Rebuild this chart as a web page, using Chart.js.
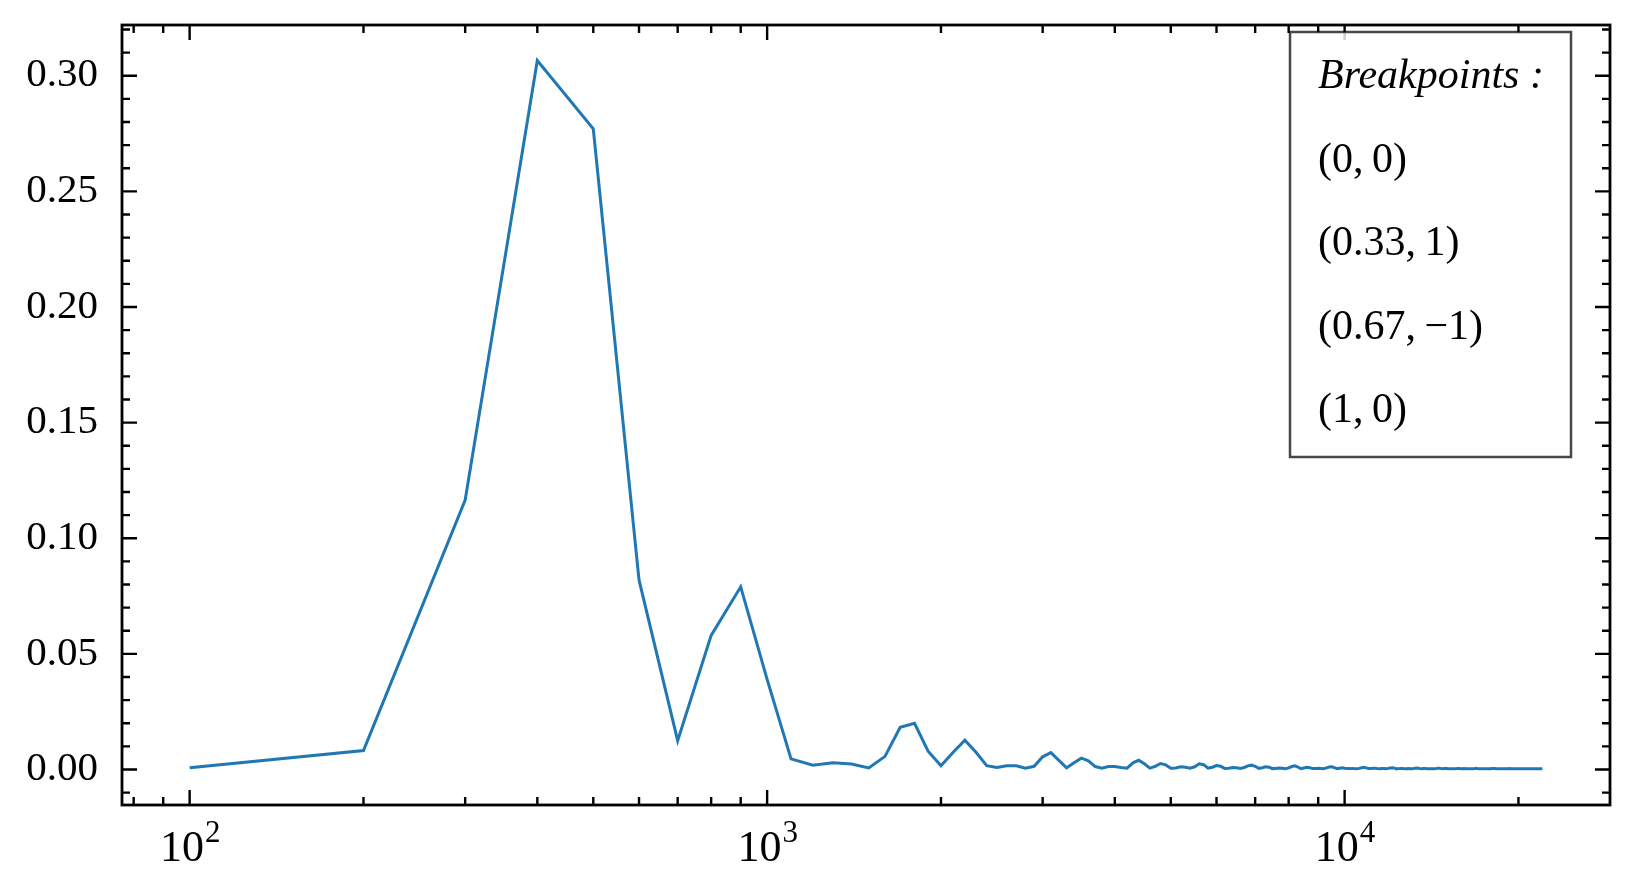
<!DOCTYPE html>
<html>
<head>
<meta charset="utf-8">
<script src="https://cdn.jsdelivr.net/npm/chart.js@4.4.1/dist/chart.umd.min.js"></script>
<style>
  html, body { margin: 0; padding: 0; background: #fff; }
  canvas { display: block; }
</style>
</head>
<body>
<canvas id="spectrum" width="1636" height="893"></canvas>
<script>
// FFT bins are 100 Hz apart, first bin at 100 Hz
var binWidth = 100;

// magnitude per bin
var magnitudes = [
  0.0008, 0.0082, 0.1165, 0.3066, 0.2770, 0.0820, 0.0125, 0.0580, 0.0790, 0.0390,
  0.0046, 0.0019, 0.0029, 0.0024, 0.0007, 0.0057, 0.0183, 0.0200, 0.0079, 0.0016,
  0.0075, 0.0127, 0.0075, 0.0017, 0.0009, 0.0016, 0.0016, 0.0006, 0.0014, 0.0055,
  0.0073, 0.0040, 0.0007, 0.0029, 0.0049, 0.0038, 0.0013, 0.0006, 0.0013, 0.0013,
  0.0009, 0.0006, 0.0029, 0.0040, 0.0025, 0.0006, 0.0014, 0.0026, 0.0020, 0.0006,
  0.0007, 0.0012, 0.0010, 0.0006, 0.0012, 0.0025, 0.0021, 0.0006, 0.0010, 0.0017,
  0.0014, 0.0005, 0.0006, 0.0009, 0.0008, 0.0005, 0.0009, 0.0016, 0.0019, 0.0014,
  0.0005, 0.0008, 0.0012, 0.0010, 0.0004, 0.0005, 0.0007, 0.0006, 0.0004, 0.0007,
  0.0013, 0.0016, 0.0011, 0.0004, 0.0007, 0.0010, 0.0008, 0.0004, 0.0004, 0.0006,
  0.0005, 0.0004, 0.0007, 0.0011, 0.0012, 0.0008, 0.0004, 0.0006, 0.0008, 0.0006,
  0.0004, 0.0004, 0.0005, 0.0004, 0.0003, 0.0005, 0.0008, 0.0010, 0.0007, 0.0004,
  0.0004, 0.0006, 0.0006, 0.0004, 0.0003, 0.0004, 0.0004, 0.0003, 0.0005, 0.0007,
  0.0008, 0.0006, 0.0003, 0.0004, 0.0005, 0.0005, 0.0003, 0.0003, 0.0004, 0.0003,
  0.0003, 0.0005, 0.0007, 0.0006, 0.0004, 0.0003, 0.0004, 0.0004, 0.0003, 0.0003,
  0.0003, 0.0003, 0.0003, 0.0004, 0.0006, 0.0006, 0.0004, 0.0003, 0.0004, 0.0004,
  0.0003, 0.0003, 0.0003, 0.0003, 0.0003, 0.0004, 0.0005, 0.0005, 0.0003, 0.0003,
  0.0004, 0.0003, 0.0003, 0.0003, 0.0003, 0.0003, 0.0003, 0.0004, 0.0005, 0.0004,
  0.0003, 0.0003, 0.0003, 0.0003, 0.0003, 0.0003, 0.0003, 0.0003, 0.0003, 0.0004,
  0.0004, 0.0004, 0.0003, 0.0003, 0.0003, 0.0003, 0.0003, 0.0003, 0.0003, 0.0003,
  0.0003, 0.0003, 0.0004, 0.0003, 0.0003, 0.0003, 0.0003, 0.0003, 0.0003, 0.0003,
  0.0003, 0.0003, 0.0003, 0.0003, 0.0003, 0.0003, 0.0003, 0.0003, 0.0003, 0.0003,
  0.0003, 0.0003, 0.0003, 0.0003, 0.0003, 0.0003, 0.0003, 0.0003, 0.0003, 0.0003
];

var xMajorTicks = [100, 1000, 10000];
var xTickExponents = ['2', '3', '4'];
var yTickStep = 0.05;
var yMinorStep = 0.01;

var legendLines = ['Breakpoints :', '(0,\u20090)', '(0.33,\u20091)', '(0.67,\u2009\u22121)', '(1,\u20090)'];

var serif = "'Liberation Serif', 'Times New Roman', serif";
var lineColor = '#1f77b4';

var points = magnitudes.map(function(m, i) {
  return {x: (i + 1) * binWidth, y: m};
});

// matplotlib-like 5% margins (log on x)
var lx0 = Math.log10(points[0].x), lx1 = Math.log10(points[points.length - 1].x);
var xMin = Math.pow(10, lx0 - 0.05 * (lx1 - lx0));
var xMax = Math.pow(10, lx1 + 0.05 * (lx1 - lx0));
var yTop = Math.max.apply(null, magnitudes);
var yMin = -0.05 * yTop;
var yMax = yTop * 1.05;

// inward ticks on all four sides, frame, x labels with exponents, legend box
var framePlugin = {
  id: 'frame',
  afterDraw: function(chart) {
    var ctx = chart.ctx, a = chart.chartArea;
    var xs = chart.scales.x, ys = chart.scales.y;
    var major = 15, minor = 8;
    ctx.save();
    ctx.strokeStyle = '#000';
    ctx.lineWidth = 2.4;
    ctx.beginPath();
    // x ticks
    for (var e = 1; e <= 4; e++) {
      for (var k = 1; k <= 9; k++) {
        var v = k * Math.pow(10, e);
        if (v < xMin || v > xMax) continue;
        var px = xs.getPixelForValue(v);
        var len = k === 1 ? major : minor;
        ctx.moveTo(px, a.bottom); ctx.lineTo(px, a.bottom - len);
        ctx.moveTo(px, a.top); ctx.lineTo(px, a.top + len);
      }
    }
    // y ticks
    for (var i = Math.ceil(yMin / yMinorStep); i * yMinorStep <= yMax; i++) {
      var py = ys.getPixelForValue(i * yMinorStep);
      var l = i % 5 === 0 ? major : minor;
      ctx.moveTo(a.left, py); ctx.lineTo(a.left + l, py);
      ctx.moveTo(a.right, py); ctx.lineTo(a.right - l, py);
    }
    ctx.stroke();
    ctx.lineWidth = 2.8;
    ctx.strokeRect(a.left, a.top, a.right - a.left, a.bottom - a.top);

    // x tick labels: 10 with superscript exponent
    ctx.fillStyle = '#000';
    ctx.textBaseline = 'alphabetic';
    ctx.textAlign = 'left';
    xMajorTicks.forEach(function(v, idx) {
      var px = xs.getPixelForValue(v);
      ctx.font = '44px ' + serif;
      var w1 = ctx.measureText('10').width;
      ctx.font = '31px ' + serif;
      var w2 = ctx.measureText(xTickExponents[idx]).width;
      var x0 = px - (w1 + w2) / 2;
      var base = a.bottom + 56;
      ctx.font = '44px ' + serif;
      ctx.fillText('10', x0, base);
      ctx.font = '31px ' + serif;
      ctx.fillText(xTickExponents[idx], x0 + w1 + 1, base - 19);
    });

    // legend box
    var bx = 1290, by = 32, bw = 281, bh = 425;
    ctx.fillStyle = 'rgba(255,255,255,0.8)';
    ctx.fillRect(bx, by, bw, bh);
    ctx.strokeStyle = 'rgba(0,0,0,0.72)';
    ctx.lineWidth = 2.5;
    ctx.strokeRect(bx, by, bw, bh);
    ctx.fillStyle = '#000';
    ctx.textBaseline = 'middle';
    legendLines.forEach(function(t, idx) {
      ctx.font = (idx === 0 ? 'italic ' : '') + '42px ' + serif;
      ctx.fillText(t, bx + 28, by + 45 + idx * 83.5);
    });
    ctx.restore();
  }
};

new Chart(document.getElementById('spectrum').getContext('2d'), {
  type: 'line',
  data: {
    datasets: [{
      data: points,
      borderColor: lineColor,
      borderWidth: 3,
      pointRadius: 0,
      tension: 0,
      fill: false
    }]
  },
  options: {
    responsive: false,
    animation: false,
    devicePixelRatio: 1,
    layout: {padding: {top: 25, right: 26, left: 0, bottom: 0}},
    plugins: {legend: {display: false}, tooltip: {enabled: false}},
    scales: {
      x: {
        type: 'logarithmic',
        min: xMin,
        max: xMax,
        grid: {display: false, drawTicks: false},
        border: {display: false},
        ticks: {display: false},
        afterFit: function(scale) {
          scale.height = 88;
          scale.paddingLeft = 0; scale.paddingRight = 0;
        }
      },
      y: {
        type: 'linear',
        min: yMin,
        max: yMax,
        grid: {display: false, drawTicks: false},
        border: {display: false},
        ticks: {
          stepSize: yTickStep,
          includeBounds: false,
          padding: 24,
          color: '#000',
          font: {family: serif, size: 41},
          callback: function(v) { return v.toFixed(2); }
        },
        afterFit: function(scale) {
          scale.width = 122;
          scale.paddingTop = 0; scale.paddingBottom = 0;
        }
      }
    }
  },
  plugins: [framePlugin]
});
</script>
</body>
</html>
